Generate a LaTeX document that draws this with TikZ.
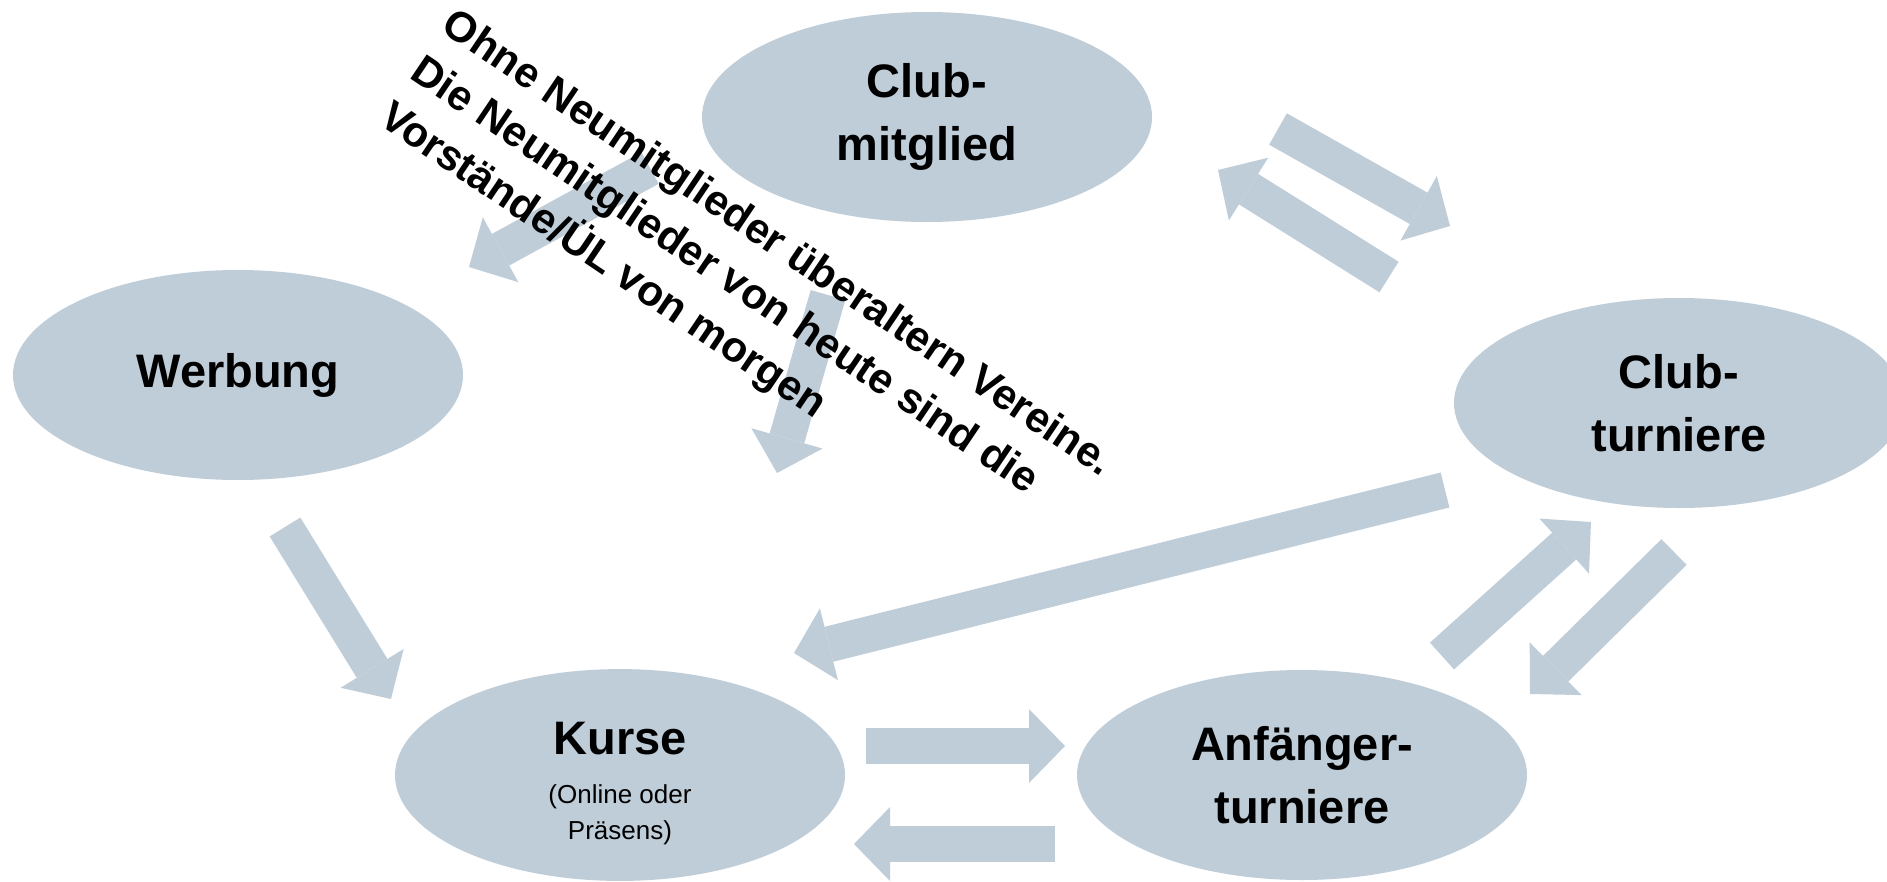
\documentclass[tikz,border=0pt]{standalone}
\usepackage{fontspec}
\setmainfont{Liberation Sans}
\usetikzlibrary{shapes.geometric,arrows.meta}
\definecolor{bg}{RGB}{191,205,217}
\begin{document}
\begin{tikzpicture}[x=1pt,y=-1pt,
  bubble/.style={ellipse, fill=bg, minimum width=450pt, minimum height=210pt, inner sep=0pt, align=center, font=\fontsize{47}{63}\selectfont\bfseries},
  barrow/.style={draw=bg, line width=36pt, -{Triangle[length=36pt,width=74pt,line width=0pt]}}]
\useasboundingbox (0,0) rectangle (1887,881);
\fill[white] (0,0) rectangle (1887,881);
% nodes
\node[bubble] (mit) at (927,117) {Club-\\mitglied};
\node[bubble] (wer) at (238,375) {Werbung};
\node[bubble] (ct) at (1679,403) {Club-\\turniere};
\node[bubble] (kur) at (620,775) {\rule{0pt}{54pt}Kurse\\[-14pt]{\fontsize{26}{36}\selectfont\mdseries\begin{tabular}[t]{@{}c@{}}(Online oder\\Präsens)\end{tabular}}};
\node[bubble] (anf) at (1302,775) {Anfänger-\\turniere};
% arrow end points
\coordinate (a1) at (650,168); \coordinate (a2) at (469,267);
\coordinate (b1) at (828,295); \coordinate (b2) at (777,473);
\coordinate (c1) at (1278,129); \coordinate (c2) at (1450,226);
\coordinate (d1) at (1389,277); \coordinate (d2) at (1218,170);
\coordinate (e1) at (1445,490); \coordinate (e2) at (794,653);
\coordinate (f1) at (1442,656); \coordinate (f2) at (1591,522);
\coordinate (g1) at (1674,552); \coordinate (g2) at (1530,694);
\coordinate (h1) at (285,527); \coordinate (h2) at (391,699);
\coordinate (i1) at (866,746); \coordinate (i2) at (1065,746);
\coordinate (j1) at (1055,844); \coordinate (j2) at (854,844);
\foreach \s/\t in {a1/a2,b1/b2,c1/c2,d1/d2,e1/e2,f1/f2,g1/g2,h1/h2,i1/i2,j1/j2}
  \draw[barrow] (\s) -- (\t);
% rotated note
\node[rotate=-34, anchor=north west, inner sep=0pt, align=left,
      font=\fontsize{42.5}{56}\selectfont\bfseries] (note) at (457,5)
  {Ohne Neumitglieder überaltern Vereine.\\Die Neumitglieder von heute sind die\\Vorstände/ÜL von morgen};
\end{tikzpicture}
\end{document}
